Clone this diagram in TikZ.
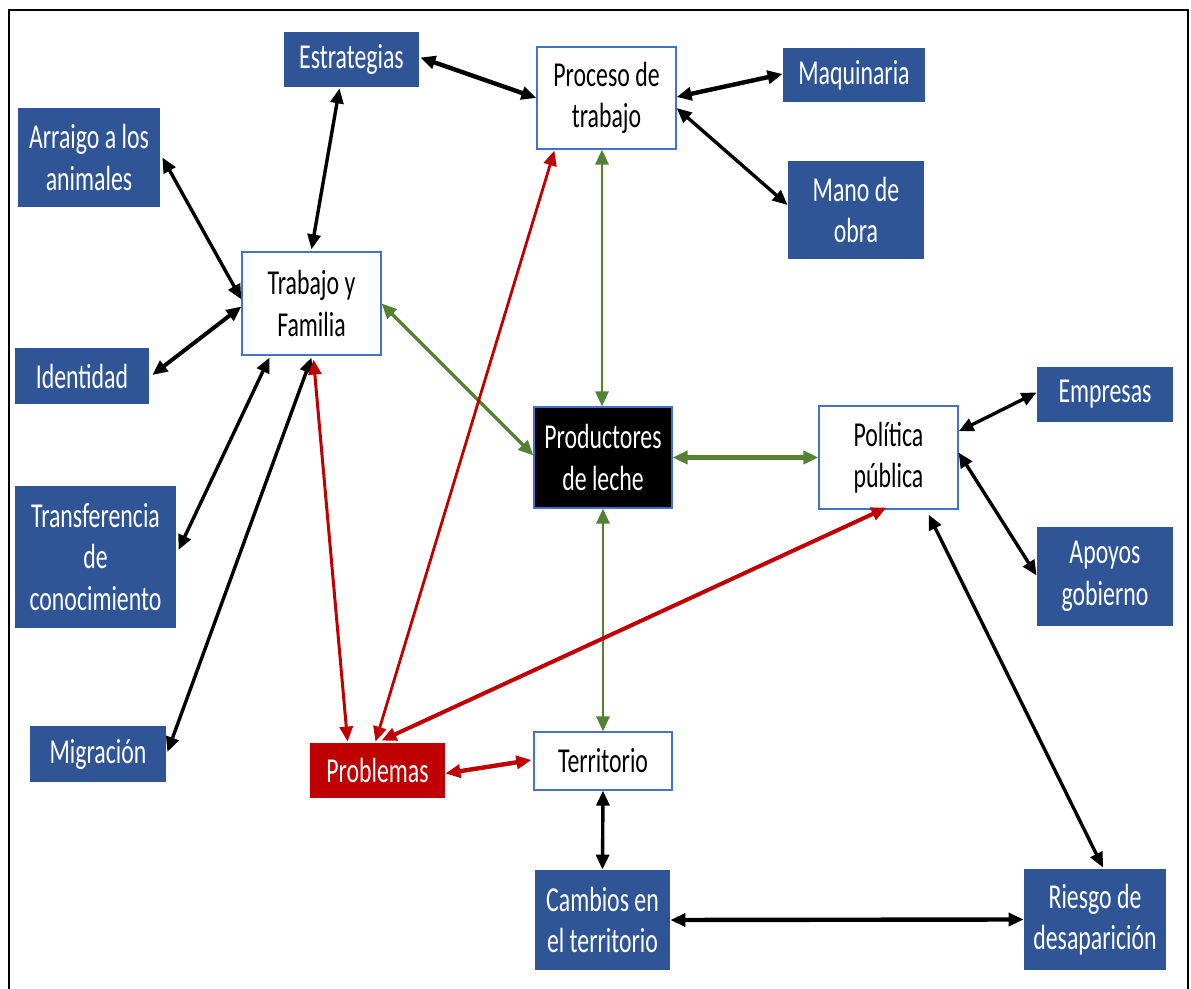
\documentclass[tikz,border=0pt]{standalone}
\usepackage{fontspec}
\setmainfont{Carlito}[FakeStretch=0.68]
\usetikzlibrary{arrows.meta,calc}
\definecolor{bluebox}{RGB}{47,85,151}
\definecolor{blueline}{RGB}{68,114,196}
\definecolor{gline}{RGB}{84,130,53}
\definecolor{rline}{RGB}{192,0,0}
\tikzset{
  boxbase/.style={rectangle, inner sep=0pt, align=center, font=\fontsize{17.5pt}{20.75pt}\selectfont},
  bluenode/.style={boxbase, fill=bluebox, text=white},
  whitenode/.style={boxbase, fill=white, draw=blueline, line width=0.6pt, text=black},
  blacknode/.style={boxbase, fill=black, draw=blueline, line width=0.6pt, text=white},
  rednode/.style={boxbase, fill=rline, text=white},
  sz/.style 2 args={minimum width=#1*0.5pt, minimum height=#2*0.5pt},
  link/.style={<->, >={Triangle[length=7.5pt,width=6.5pt]}, line width=1.7pt},
  blk/.style={link, draw=black},
  grn/.style={link, draw=gline},
  red/.style={link, draw=rline}
}
\begin{document}
\begin{tikzpicture}[x=0.5pt,y=-0.5pt]
\useasboundingbox (0,0) rectangle (1191,989);
\fill[white] (0,0) rectangle (1191,989);
% frame
\draw[line width=1pt] (9,995) -- (9,10) -- (1188,10) -- (1188,995);

% nodes
\node[bluenode, sz={135}{55}] (estr) at (351.5,59.5) {Estrategias};
\node[bluenode, sz={142}{99}] (arr) at (89,157.5) {Arraigo a los\\animales};
\node[whitenode, sz={139}{103}] (trab) at (311.5,303.5) {Trabajo y\\Familia};
\node[whitenode, sz={139}{102}] (proc) at (606.5,98) {Proceso de\\trabajo};
\node[bluenode, sz={142}{54}] (maq) at (854,75) {Maquinaria};
\node[bluenode, sz={136}{98}] (mano) at (856,210) {Mano de\\obra};
\node[bluenode, sz={134}{56}] (iden) at (82,376) {Identidad};
\node[bluenode, sz={161}{142}] (trans) at (95.5,557) {Transferencia\\de\\conocimiento};
\node[blacknode, sz={138}{101}] (prod) at (603,457.5) {Productores\\de leche};
\node[whitenode, sz={139}{103}] (pol) at (888.5,457.5) {Política\\pública};
\node[bluenode, sz={136}{55}] (emp) at (1105,394.5) {Empresas};
\node[bluenode, sz={136}{99}] (apo) at (1105,576.5) {Apoyos\\gobierno};
\node[bluenode, sz={136}{56}] (mig) at (98,754) {Migración};
\node[rednode, sz={135}{55}] (prob) at (377.5,770.5) {Problemas};
\node[whitenode, sz={138}{58}] (terr) at (603,761) {Territorio};
\node[bluenode, sz={135}{100}] (camb) at (602.5,920) {Cambios en\\el territorio};
\node[bluenode, sz={142}{101}] (ries) at (1095,919.5) {Riesgo de\\desaparición};

% black connectors
\draw[blk, line width=2.2pt] ($(estr.east)+(1,-2)$) -- (proc.west);
\draw[blk] ($(estr.south)+(-12,1)$) -- ($(trab.north)+(0,-2)$);
\draw[blk] ($(arr.east)+(2,0)$) -- ($(trab.west)+(0,-4)$);
\draw[blk, line width=2pt] ($(iden.east)+(3,-1)$) -- ($(trab.west)+(0,3)$);
\draw[blk] ($(trans.east)+(2,-7)$) -- ($(trab.south west)+(28,2)$);
\draw[blk] ($(mig.east)+(1,-2)$) -- ($(trab.south)+(0,2)$);
\draw[blk, line width=2.2pt] ($(proc.east)+(0,-1)$) -- ($(maq.west)+(0,-1)$);
\draw[blk] ($(proc.east)+(0,10)$) -- ($(mano.west)+(0,-5)$);
\draw[blk] ($(pol.north east)+(0,26)$) -- ($(emp.west)+(0,-2)$);
\draw[blk] ($(pol.east)+(0,-5)$) -- ($(apo.west)+(0,-1)$);
\draw[blk] ($(pol.south east)+(-30,5)$) -- ($(ries.north)+(8,-1)$);
\draw[blk] (terr.south) -- (camb.north);
\draw[blk, line width=2.2pt] (camb.east) -- (ries.west);

% green connectors
\draw[grn] (trab.east) -- ($(prod.west)+(0,-2)$);
\draw[grn, line width=1.4pt] ($(prod.north)+(-1,0)$) -- ($(prod.north |- proc.south)+(-1,0)$);
\draw[grn, line width=2.2pt] (prod.east) -- (pol.west);
\draw[grn, line width=1.4pt] (prod.south) -- (terr.north);

% red connectors
\draw[red, line width=1.5pt] ($(trab.south)+(2,4)$) -- ($(prob.north west)+(38,-1)$);
\draw[red, line width=1.4pt] ($(prob.north)+(-2,-1)$) -- ($(proc.south west)+(18,1)$);
\draw[red, line width=2pt] ($(prob.north)+(4,-2)$) -- ($(pol.south)+(-2,-2)$);
\draw[red, line width=2.2pt] ($(prob.east)+(0,3)$) -- ($(terr.west)+(-2,-1)$);
\end{tikzpicture}
\end{document}
